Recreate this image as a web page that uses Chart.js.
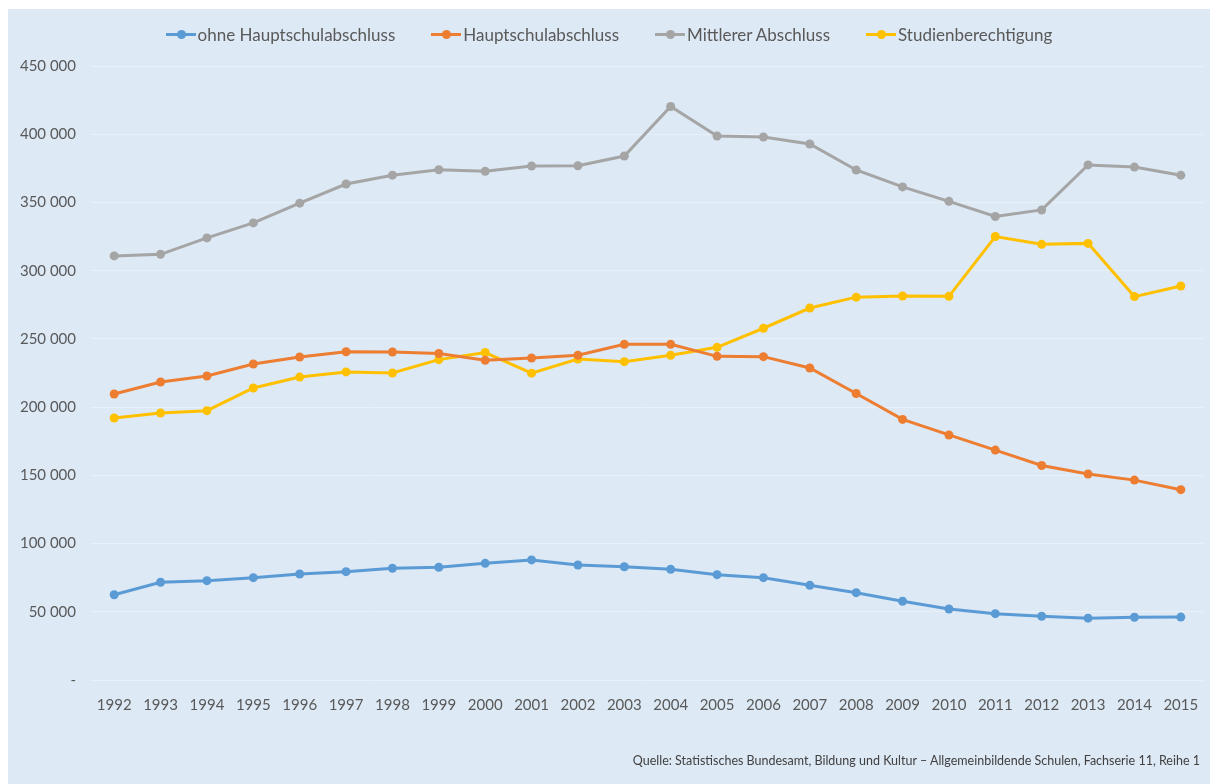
<!DOCTYPE html>
<html>
<head>
<meta charset="utf-8">
<script src="https://cdn.jsdelivr.net/npm/chart.js@4/dist/chart.umd.min.js"></script>
<style>
    html, body { margin: 0; padding: 0; background: #ffffff; }
    .frame {
        position: absolute; left: 8px; top: 9px; width: 1202px; height: 775px;
        background: #dde9f5;
        font-family: Lato, "Open Sans", sans-serif;
        color: #595959;
    }
    .frame canvas { position: absolute; left: 0; top: 0; }
    .legend {
        position: absolute; left: 0; right: 0; top: 15px;
        display: flex; justify-content: center; gap: 36px;
        font-size: 17px;
    }
    .legend-item { display: flex; align-items: center; }
    .legend-mark { position: relative; width: 30px; height: 3px; margin-right: 2px; }
    .legend-mark::after {
        content: ''; position: absolute; left: 11px; top: -3px;
        width: 9px; height: 9px; border-radius: 50%; background: inherit;
    }
    .source {
        position: absolute; right: 10px; top: 744px;
        font-size: 12.5px; color: #404040;
    }
</style>
</head>
<body>
<div class="frame">
    <canvas id="chart" width="1202" height="775"></canvas>
    <div class="legend" id="legend"></div>
    <div class="source">Quelle: Statistisches Bundesamt, Bildung und Kultur – Allgemeinbildende Schulen, Fachserie 11, Reihe 1</div>
</div>
<script>
// Data (Absolventen/Abgänger nach Abschlussart)
const years = ['1992', '1993', '1994', '1995', '1996', '1997', '1998', '1999', '2000', '2001', '2002', '2003',
    '2004', '2005', '2006', '2007', '2008', '2009', '2010', '2011', '2012', '2013', '2014', '2015'];

const ohneHauptschulabschluss = [62500, 71600, 72800, 75000, 77700, 79400, 81900, 82600, 85500, 88000, 84300, 83000,
    81100, 77200, 75000, 69400, 64000, 57700, 52000, 48600, 46700, 45300, 46000, 46100];

const hauptschulabschluss = [209600, 218400, 222800, 231600, 236700, 240600, 240400, 239300, 234300, 236000, 238000, 246000,
    246000, 237200, 237000, 228700, 210000, 191000, 179600, 168500, 157200, 151000, 146500, 139500];

const mittlererAbschluss = [310800, 312000, 324000, 335000, 349500, 363500, 370000, 374000, 372800, 376700, 376900, 384000,
    420300, 398700, 398000, 392800, 373800, 361400, 350800, 339700, 344500, 377500, 375900, 370000];

const studienberechtigung = [192000, 195700, 197400, 214000, 222000, 225800, 225000, 234800, 240000, 224900, 235200, 233300,
    238000, 243800, 257800, 272600, 280600, 281400, 281200, 325000, 319300, 320000, 281000, 288800];

const yTicks = [0, 50000, 100000, 150000, 200000, 250000, 300000, 350000, 400000, 450000];

const seriesNames = ['ohne Hauptschulabschluss', 'Hauptschulabschluss', 'Mittlerer Abschluss', 'Studienberechtigung'];
const seriesColors = ['#5b9bd5', '#ed7d31', '#a5a5a5', '#ffc000'];

// Helpers
function formatThousands(value) {
    if (value === 0) return '-';
    return String(value).replace(/\B(?=(\d{3})+(?!\d))/g, ' ');
}

function makeDataset(label, data, color) {
    return {
        label: label,
        data: data,
        borderColor: color,
        backgroundColor: color,
        borderWidth: 3,
        pointRadius: 4.5,
        pointHoverRadius: 5,
        pointBorderWidth: 0,
        tension: 0
    };
}

function buildLegend() {
    const legend = document.getElementById('legend');
    seriesNames.forEach((name, i) => {
        const item = document.createElement('div');
        item.className = 'legend-item';
        const mark = document.createElement('span');
        mark.className = 'legend-mark';
        mark.style.background = seriesColors[i];
        const text = document.createElement('span');
        text.textContent = name;
        item.appendChild(mark);
        item.appendChild(text);
        legend.appendChild(item);
    });
}

// Chart
const ctx = document.getElementById('chart').getContext('2d');
const datasets = [ohneHauptschulabschluss, hauptschulabschluss, mittlererAbschluss, studienberechtigung]
    .map((data, i) => makeDataset(seriesNames[i], data, seriesColors[i]));

new Chart(ctx, {
    type: 'line',
    data: { labels: years, datasets: datasets },
    options: {
        responsive: false,
        animation: false,
        layout: { padding: { top: 57, right: 6, bottom: 64, left: 0 } },
        plugins: { legend: { display: false }, tooltip: { enabled: false } },
        scales: {
            x: {
                offset: true,
                grid: { display: false },
                border: { display: false },
                ticks: {
                    color: '#595959',
                    font: { family: 'Lato', size: 15 },
                    padding: 8,
                    maxRotation: 0,
                    autoSkip: false
                },
                afterFit: scale => { scale.height = 40; }
            },
            y: {
                min: 0,
                max: 450000,
                afterBuildTicks: scale => { scale.ticks = yTicks.map(v => ({ value: v })); },
                grid: { color: '#e9f0f8', lineWidth: 1, drawTicks: false },
                border: { display: false },
                ticks: {
                    color: '#595959',
                    font: { family: 'Lato', size: 15 },
                    padding: 15,
                    callback: value => formatThousands(value)
                },
                afterFit: scale => { scale.width = 83; }
            }
        }
    }
});

buildLegend();
</script>
</body>
</html>
